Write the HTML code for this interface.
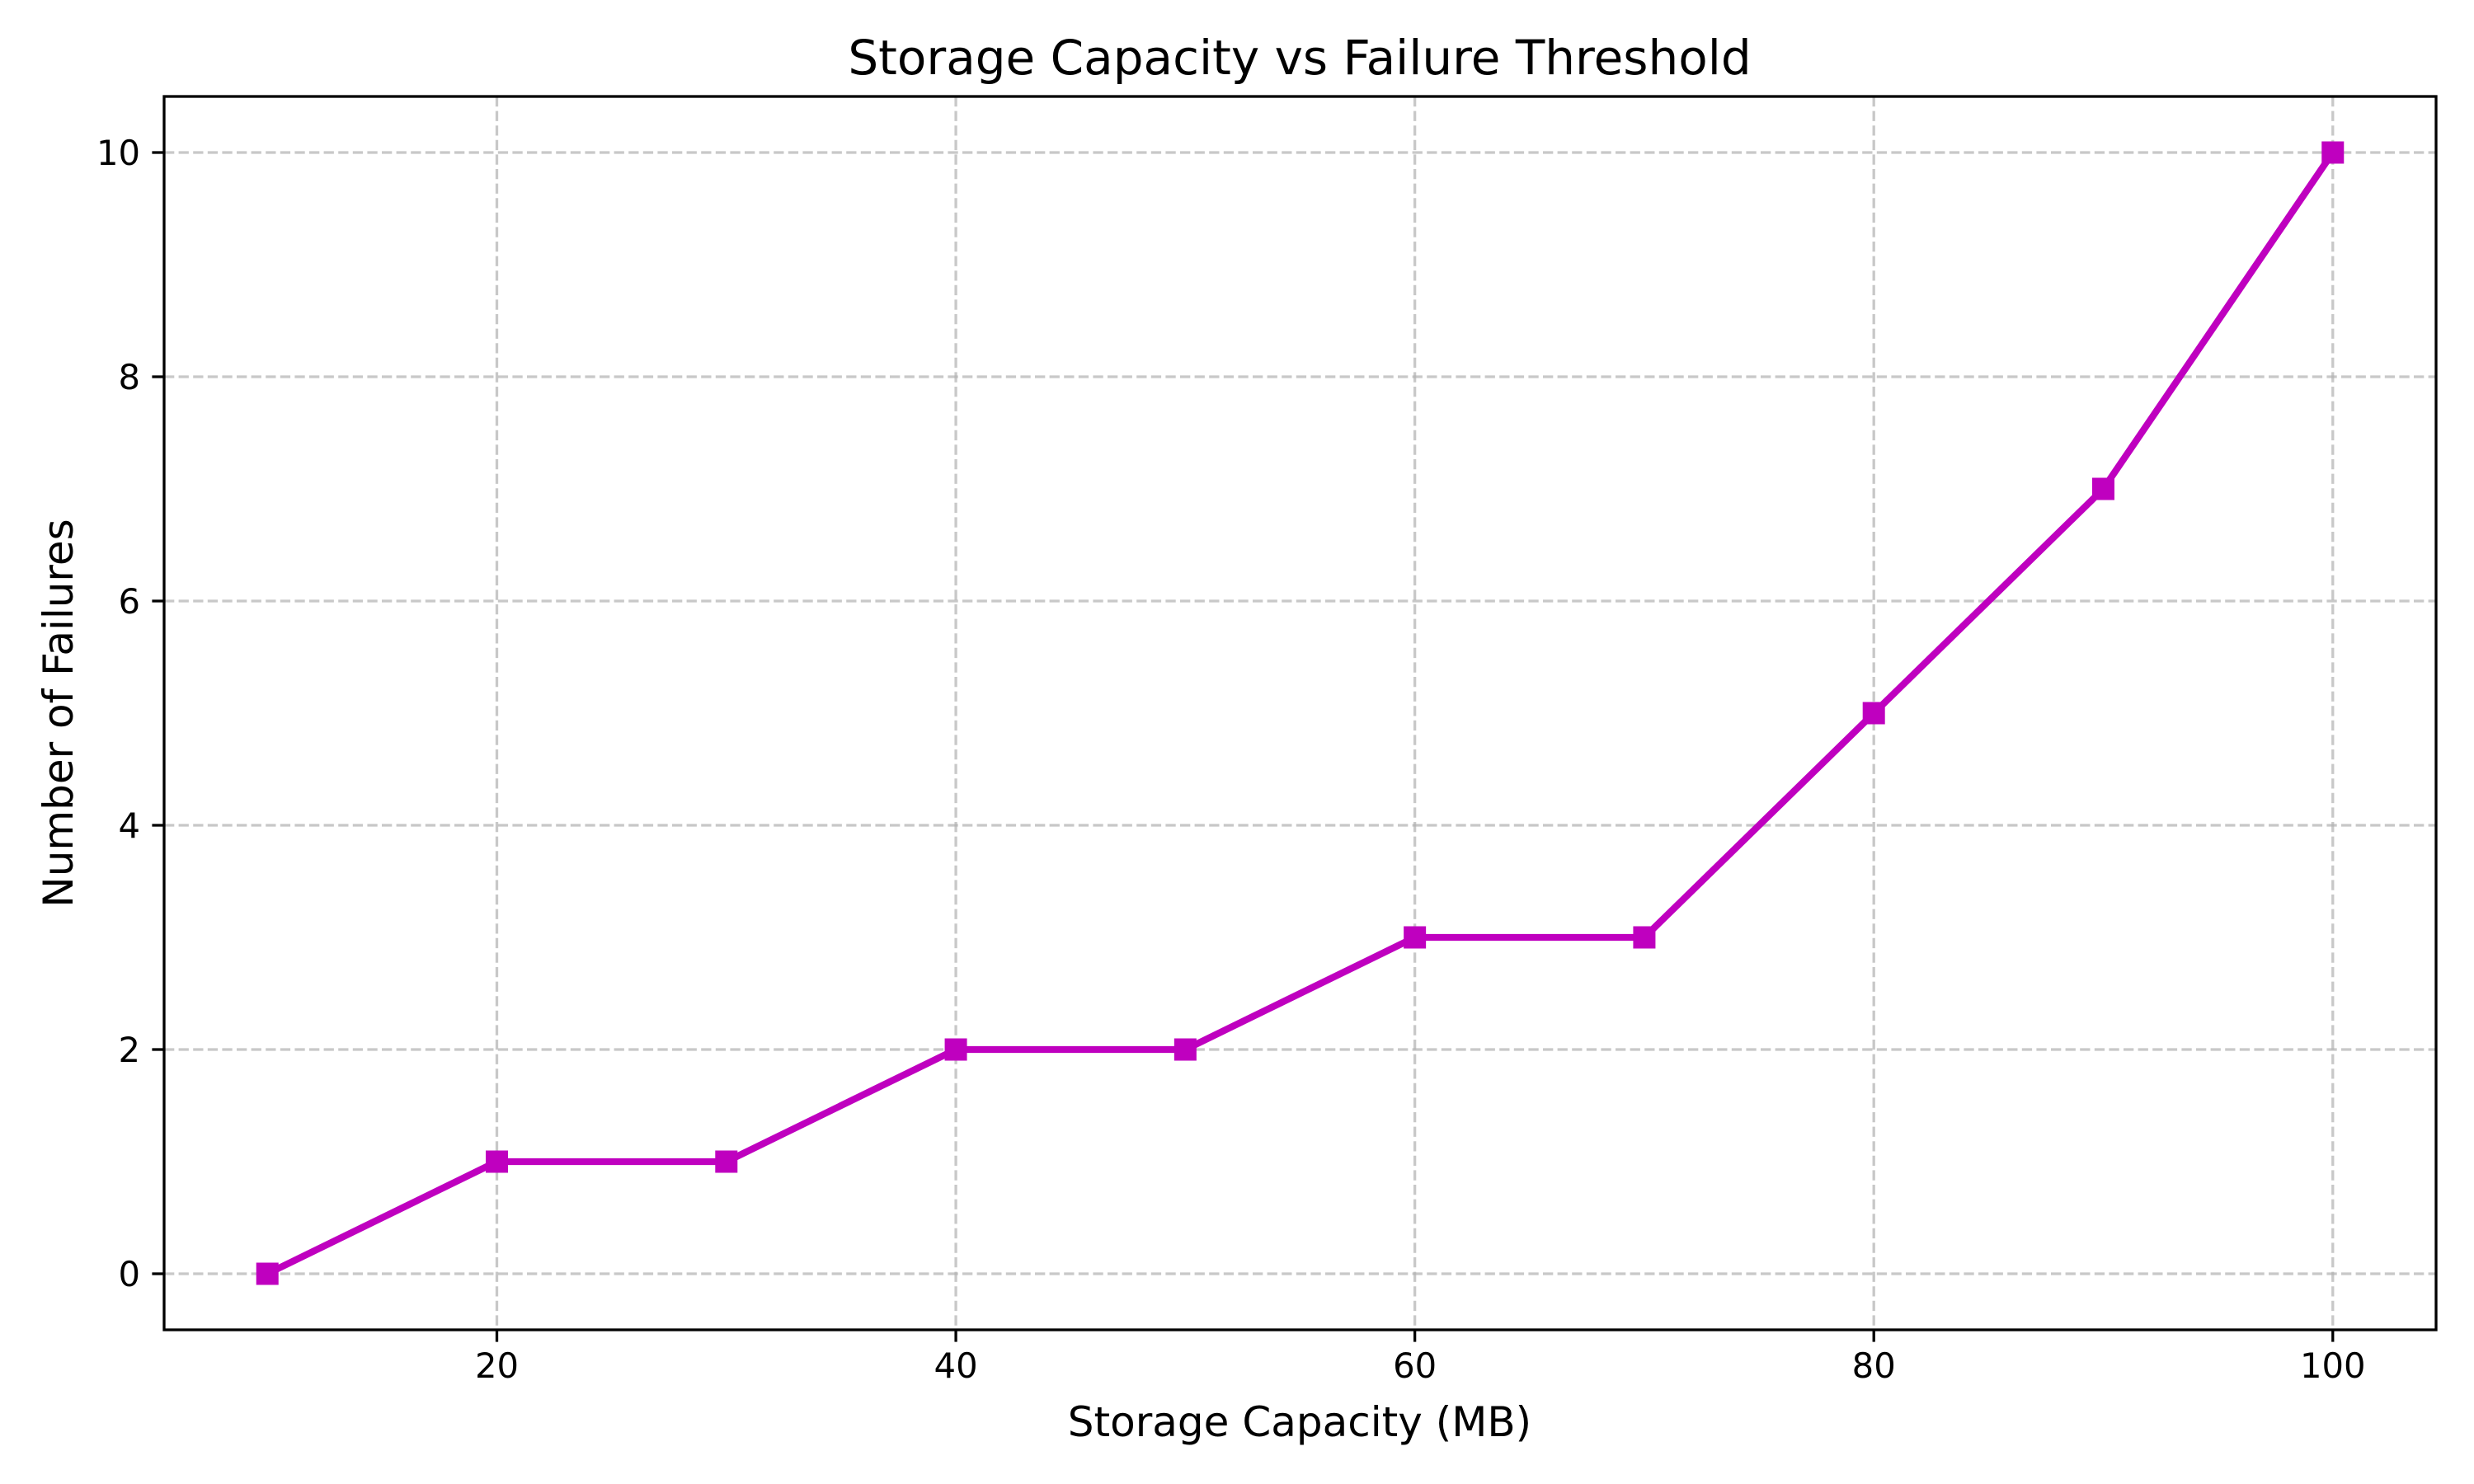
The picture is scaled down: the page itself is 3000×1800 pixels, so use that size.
<!DOCTYPE html>
<html><head><meta charset="utf-8"><style>
html,body{margin:0;padding:0;background:#fff;}
svg{display:block;font-family:"DejaVu Sans","Liberation Sans",sans-serif;}
</style></head><body>
<svg id="chart" width="3000" height="1800" viewBox="0 0 3000 1800" xmlns="http://www.w3.org/2000/svg">
<rect width="3000" height="1800" fill="#fff"/>
<g id="grid"></g>
<g id="series"></g>
<rect x="199" y="117" width="2755" height="1496" fill="none" stroke="#000" stroke-width="3.3"/>
<g id="ticks"></g>
<text x="1576" y="90" font-size="58" text-anchor="middle">Storage Capacity vs Failure Threshold</text>
<text x="1576" y="1742" font-size="50" text-anchor="middle">Storage Capacity (MB)</text>
<text transform="translate(88,865) rotate(-90)" font-size="50" text-anchor="middle">Number of Failures</text>
</svg>
<script>
const capacities = [10, 20, 30, 40, 50, 60, 70, 80, 90, 100];
const failures = [0, 1, 1, 2, 2, 3, 3, 5, 7, 10];
const xTicks = [20, 40, 60, 80, 100];
const yTicks = [0, 2, 4, 6, 8, 10];

const NS = 'http://www.w3.org/2000/svg';
const L = 199, R = 2954, T = 117, B = 1613;
const xMin = 5.5, xMax = 104.5, yMin = -0.5, yMax = 10.5;
function xs(v){ return L + (v - xMin) / (xMax - xMin) * (R - L); }
function ys(v){ return B - (v - yMin) / (yMax - yMin) * (B - T); }
function mk(tag, attrs, parent){
  const e = document.createElementNS(NS, tag);
  for (const k in attrs) e.setAttribute(k, attrs[k]);
  parent.appendChild(e);
  return e;
}
const grid = document.getElementById('grid');
const ticks = document.getElementById('ticks');
const series = document.getElementById('series');

xTicks.forEach(v => {
  const x = xs(v);
  const g = mk('line', {x1:x, x2:x, y1:T, y2:B, stroke:'#b0b0b0', 'stroke-opacity':0.7, 'stroke-width':3.3, 'stroke-dasharray':'12.3,5.3'}, grid);
  
  
  const t = mk('line', {x1:x, x2:x, y1:B, y2:B+14.6, stroke:'#000', 'stroke-width':3.3}, ticks);
  
  
  const lb = mk('text', {x:x, y:B+58, 'font-size':41.7, 'text-anchor':'middle'}, ticks);
  lb.textContent = v;
  
  
});
yTicks.forEach(v => {
  const y = ys(v);
  const g = mk('line', {x1:L, x2:R, y1:y, y2:y, stroke:'#b0b0b0', 'stroke-opacity':0.7, 'stroke-width':3.3, 'stroke-dasharray':'12.3,5.3'}, grid);
  
  
  const t = mk('line', {x1:L-14.6, x2:L, y1:y, y2:y, stroke:'#000', 'stroke-width':3.3}, ticks);
  
  
  const lb = mk('text', {x:L-29, y:y+15, 'font-size':41.7, 'text-anchor':'end'}, ticks);
  lb.textContent = v;
  
  
});
const pts = capacities.map((c, i) => xs(c) + ',' + ys(failures[i])).join(' ');
const line = mk('polyline', {points:pts, fill:'none', stroke:'#bf00bf', 'stroke-width':8.3, 'stroke-linejoin':'round', 'stroke-linecap':'square'}, series);


capacities.forEach((c, i) => {
  const s = 25;
  const m = mk('rect', {x:xs(c)-s/2, y:ys(failures[i])-s/2, width:s, height:s, fill:'#bf00bf', stroke:'#bf00bf', 'stroke-width':2}, series);
  
  
});
</script>
</body></html>
